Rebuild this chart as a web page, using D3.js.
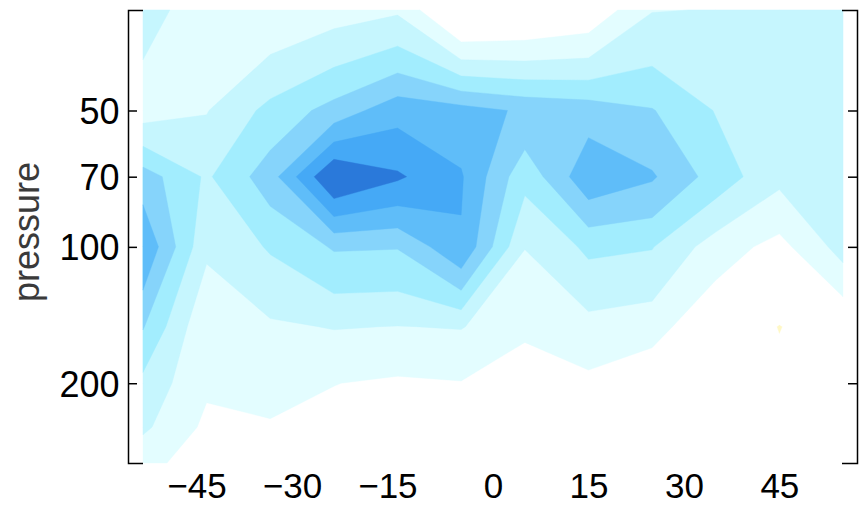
<!DOCTYPE html>
<html><head><meta charset="utf-8">
<script src="https://cdn.jsdelivr.net/npm/d3@7"></script>
<style>html,body{margin:0;padding:0;background:#fff;} svg{display:block;}</style>
</head><body><svg id="chart" width="860" height="506"></svg>
<script>
// ---- data ----
const latitudes = [-55, -45, -35, -25, -15, -5, 5, 15, 25, 35, 45, 55];
const pressureLevels = [30, 50, 70, 100, 150, 200, 250, 300];
const p30  = [2.38, 1.48, 1.20, 1.58, 1.85, -0.58, -0.28, 0.18, 1.96, 2.03, 2.30, 2.50];
const p50  = [1.50, 1.95, 3.30, 4.38, 5.65, 5.40, 4.85, 4.57, 4.06, 2.95, 2.50, 2.50];
const p70  = [4.50, 2.85, 4.55, 8.10, 7.15, 6.10, 3.30, 5.73, 5.12, 3.57, 2.25, 2.45];
const p100 = [5.90, 2.20, 3.10, 4.10, 4.05, 5.90, 2.02, 3.20, 3.05, 1.50, 0.66, 2.41];
const p150 = [4.07, 1.10, 1.85, 2.05, 1.98, 2.05, 1.30, 1.66, 1.40, 0.15, -1.05, -0.03];
const p200 = [2.71, 1.15, 1.30, 1.02, 0.84, 0.95, 0.10, 0.77, 0.22, 0.00, -0.63, -0.30];
const p250 = [2.20, 0.79, 0.92, 0.70, 0.60, 0.60, 0.00, 0.50, 0.10, 0.00, -0.30, -0.30];
const p300 = [1.20, 0.67, 0.60, 0.50, 0.50, 0.50, 0.00, 0.40, 0.10, 0.00, -0.20, -0.30];
const contourLevels = [-1, 1, 2, 3, 4, 5, 6, 7];
const levelColors = ["#ffffff", "#e3fdff", "#c6f6fe", "#a2edfe", "#86d4fb", "#5fbdf9", "#45a9f6", "#2a79da"];
const belowColor = "#fff8c6";
const xTicks = [-45, -30, -15, 0, 15, 30, 45];
const yTicks = [50, 70, 100, 200];
const yTitle = "pressure";

// ---- layout ----
const svg = d3.select("#chart");
const x = d3.scaleLinear().domain([-55, 55]).range([143, 843]);
const y = d3.scaleLog().domain([30, 300]).range([10, 463]);

const rows = [p30, p50, p70, p100, p150, p200, p250, p300];
const nx = latitudes.length, ny = pressureLevels.length;
const values = rows.flat();

// grid-index space -> data space (value i sits at i + 0.5 in d3.contours output)
const idxToLat = d3.scaleLinear().domain(d3.range(nx).map(i => i + 0.5)).range(latitudes).clamp(true);
const idxToP = d3.scaleLinear().domain(d3.range(ny).map(i => i + 0.5)).range(pressureLevels).clamp(true);

const proj = d3.geoTransform({
  point: function(cx, cy) { this.stream.point(x(idxToLat(cx)), y(idxToP(cy))); }
});
const path = d3.geoPath(proj);

const contours = d3.contours().size([nx, ny]).thresholds(contourLevels)(values);

const g = svg.append("g");
g.append("rect").attr("x", x(-55)).attr("y", y(30))
  .attr("width", x(55) - x(-55)).attr("height", y(300) - y(30))
  .attr("fill", belowColor);
g.selectAll("path.band").data(contours).join("path")
  .attr("class", "band")
  .attr("d", path)
  .attr("fill", (d, i) => levelColors[i])
  .attr("fill-rule", "evenodd")
  .attr("stroke", (d, i) => levelColors[i])
  .attr("stroke-width", 0.4);

const font = "'Liberation Sans', Arial, Helvetica, sans-serif";

// left axis (bracket)
const yAxisL = d3.axisLeft(y).tickValues(yTicks).tickFormat(d3.format("d"))
  .tickSize(-9).tickSizeOuter(-15).tickPadding(8.5);
const gl = svg.append("g").attr("transform", "translate(128,0)").call(yAxisL);
gl.selectAll("path,line").attr("stroke", "#000").attr("stroke-width", 1.5);
gl.selectAll("text").attr("font-family", font).attr("font-size", 36).attr("fill", "#000").attr("dy", "0.36em");

// right axis (bracket)
const yAxisR = d3.axisRight(y).tickValues(yTicks).tickFormat("")
  .tickSize(-9).tickSizeOuter(-15);
const gr = svg.append("g").attr("transform", "translate(857,0)").call(yAxisR);
gr.selectAll("path,line").attr("stroke", "#000").attr("stroke-width", 1.5);

// bottom labels
const xAxis = d3.axisBottom(x).tickValues(xTicks).tickFormat(d3.format("d")).tickSize(0).tickPadding(0);
const gb = svg.append("g").attr("transform", "translate(0,463)").call(xAxis);
gb.select(".domain").remove();
gb.selectAll("text").attr("font-family", font).attr("font-size", 35).attr("fill", "#000")
  .attr("y", 35).attr("dy", 0)
  .attr("dx", d => d < 0 ? "-0.29em" : 0);

// y title
svg.append("text")
  .attr("transform", "translate(39,232) rotate(-90)")
  .attr("text-anchor", "middle")
  .attr("font-family", font).attr("font-size", 36).attr("fill", "#3a3a3a")
  .text(yTitle);
</script>
</body></html>
